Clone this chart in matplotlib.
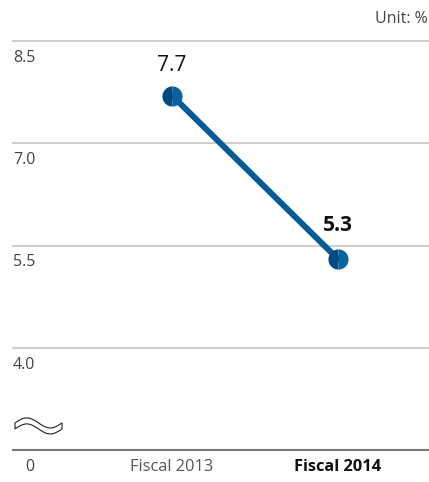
import matplotlib
matplotlib.use("Agg")
import matplotlib.pyplot as plt
import numpy as np

categories = ["Fiscal 2013", "Fiscal 2014"]
values = [7.7, 5.3]
value_labels = ["7.7", "5.3"]
grid_values = [4.0, 5.5, 7.0, 8.5]
grid_labels = ["4.0", "5.5", "7.0", "8.5"]
zero_pos = 2.5  # broken-axis position for 0
zero_label = "0"

plt.rcParams['font.family'] = ['Open Sans', 'DejaVu Sans']

fig = plt.figure(figsize=(4.29, 4.82), dpi=100)
ax = fig.add_axes([13/429, 32/482, 416/429, 409/482])
ax.set_xlim(-0.958, 1.548)
ax.set_ylim(zero_pos, 8.5)
ax.axis('off')

for g, lab in zip(grid_values, grid_labels):
    ax.axhline(g, color='#d0d0d0', lw=1.5, zorder=1, clip_on=False)
    ax.annotate(lab, (0, g), xycoords=('axes fraction', 'data'),
                xytext=(0, -17), textcoords='offset pixels',
                ha='left', va='center', fontsize=11.5, color='#444444')
ax.axhline(zero_pos, color='#777777', lw=1.5, zorder=1, clip_on=False)
ax.annotate(zero_label, (-0.855, zero_pos), xycoords='data',
            xytext=(0, -17), textcoords='offset pixels',
            ha='center', va='center', fontsize=11.5, color='#444444')

x = np.arange(len(categories))
ax.plot(x, values, color='#005b96', lw=4.3, solid_capstyle='round', zorder=3, clip_on=False)
ax.plot(x, values, 'o', ms=14.5, color='#004a82', markerfacecolor='#004a82',
        markerfacecoloralt='#0a63a0', fillstyle='left', markeredgewidth=0,
        zorder=4, clip_on=False)

offsets = [30, 34]
for i, (v, lab) in enumerate(zip(values, value_labels)):
    ax.annotate(lab, (x[i], v), xytext=(0, offsets[i]), textcoords='offset pixels',
                ha='center', va='center', fontsize=15,
                fontweight='bold' if i == len(values) - 1 else 'normal',
                color='#111111')

for i, c in enumerate(categories):
    last = i == len(categories) - 1
    ax.annotate(c, (x[i], zero_pos), xytext=(0, -17), textcoords='offset pixels',
                ha='center', va='center', fontsize=11.8,
                fontweight='bold' if last else 'normal',
                color='#111111' if last else '#555555')

fig.text(428/429, 1 - 19/482, "Unit: %", ha='right', va='center', fontsize=11.5, color='#444444')

# break symbol (wavy)
def px2data(px, py):
    return (px - 172) / 166, zero_pos + (450 - py) / 68
t = np.linspace(0, 1, 60)
xs = 15 + 47 * t
ys = 425 - 5 * np.sin(2 * np.pi * t)
up = [px2data(a, b) for a, b in zip(xs, ys - 2)]
dn = [px2data(a, b) for a, b in zip(xs[::-1], ys[::-1] + 4)]
poly = np.array(up + dn)
ax.fill(poly[:, 0], poly[:, 1], facecolor='white', edgecolor='#222222', lw=0.8, zorder=5, clip_on=False)

fig.savefig("out.png", dpi=100)
